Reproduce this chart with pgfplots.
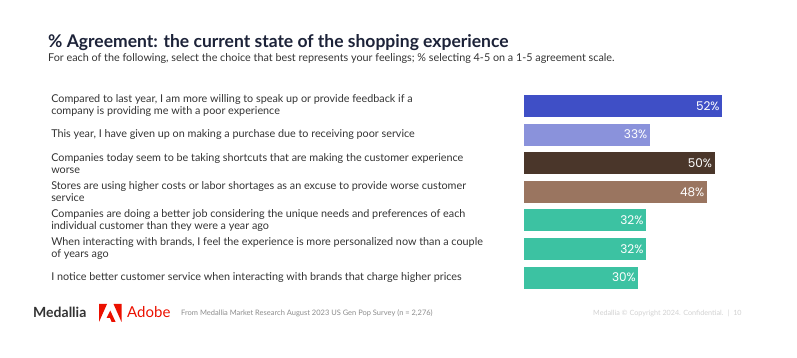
\documentclass[border=0pt]{standalone}
\usepackage{pgfplots}
\pgfplotsset{compat=1.18}
\usepackage{fontspec}
\setmainfont{Lato}
\newfontfamily\numfont{Poppins}
\definecolor{cA}{HTML}{3F4FC6}
\definecolor{cB}{HTML}{8A92DB}
\definecolor{cC}{HTML}{4A362A}
\definecolor{cD}{HTML}{9A7560}
\definecolor{cE}{HTML}{3CC2A2}
\definecolor{titlec}{HTML}{1C2238}
\definecolor{labc}{HTML}{333333}
\definecolor{adobered}{HTML}{EB1000}
\begin{document}
\begin{tikzpicture}[x=1pt,y=1pt]
\path[use as bounding box] (0,0) rectangle (797,358);
\node[anchor=base west, inner sep=0, text=titlec, font=\fontsize{17.5}{19}\selectfont\bfseries] at (48,358-48) {\% Agreement: the current state of the shopping experience};
\node[anchor=base west, inner sep=0, text=labc, font=\fontsize{10.8}{12}\selectfont] at (48,358-62) {For each of the following, select the choice that best represents your feelings; \% selecting 4-5 on a 1-5 agreement scale.};
\begin{axis}[
  at={(524pt,266.3pt)}, anchor=north west,
  scale only axis, width=228.6pt, height=200.2pt,
  xmin=0, xmax=60, ymin=0.5, ymax=7.5, y dir=reverse,
  axis line style={draw=none}, tick style={draw=none},
  xtick=\empty,
  ytick={1,...,7},
  yticklabels={
    {Compared to last year, I am more willing to speak up or provide feedback if a\\company is providing me with a poor experience},
    {This year, I have given up on making a purchase due to receiving poor service},
    {Companies today seem to be taking shortcuts that are making the customer experience\\worse},
    {Stores are using higher costs or labor shortages as an excuse to provide worse customer\\service},
    {Companies are doing a better job considering the unique needs and preferences of each\\individual customer than they were a year ago},
    {When interacting with brands, I feel the experience is more personalized now than a couple\\of years ago},
    {I notice better customer service when interacting with brands that charge higher prices}},
  yticklabel style={anchor=west, align=left, xshift=-472pt, text=labc, font=\fontsize{10.8}{12}\selectfont},
  xbar, bar width=22pt,
  nodes near coords={\pgfmathprintnumber[assume math mode=true]{\pgfplotspointmeta}\%},
  point meta=x,
  nodes near coords style={anchor=east, text=white, xshift=1pt, font=\numfont\fontsize{12}{12}\selectfont},
  every axis plot/.append style={bar shift=0pt, draw=none},
]
\addplot[fill=cA] coordinates {(52,1)};
\addplot[fill=cB] coordinates {(33,2)};
\addplot[fill=cC] coordinates {(50,3)};
\addplot[fill=cD] coordinates {(48,4)};
\addplot[fill=cE] coordinates {(32,5)};
\addplot[fill=cE] coordinates {(32,6)};
\addplot[fill=cE] coordinates {(30,7)};
\end{axis}
% footer
\node[anchor=west, inner sep=0, text=black!80, font=\fontsize{14}{15}\selectfont\bfseries] at (33,358-312) {Medallia};
\begin{scope}[shift={(99,358-322)}, x=1pt, y=1pt]
\fill[adobered] (0,18) -- (8,18) -- (0,0) -- cycle;
\fill[adobered] (14.5,18) -- (22.5,18) -- (22.5,0) -- cycle;
\fill[adobered] (11.25,11.5) -- (16.6,0) -- (12.6,0) -- (11,4) -- (7.6,4) -- cycle;
\end{scope}
\node[anchor=west, inner sep=0, text=adobered, font=\fontsize{15}{16}\selectfont] at (127,358-312) {Adobe};
\node[anchor=west, inner sep=0, text=black!45, font=\fontsize{7.5}{8}\selectfont] at (181,358-313) {From Medallia Market Research August 2023 US Gen Pop Survey (n = 2,276)};
\node[anchor=west, inner sep=0, text=black!18, font=\fontsize{7.2}{8}\selectfont] at (593,358-313) {Medallia \textcopyright\ Copyright 2024. Confidential. \ | \ 10};
\end{tikzpicture}
\end{document}
